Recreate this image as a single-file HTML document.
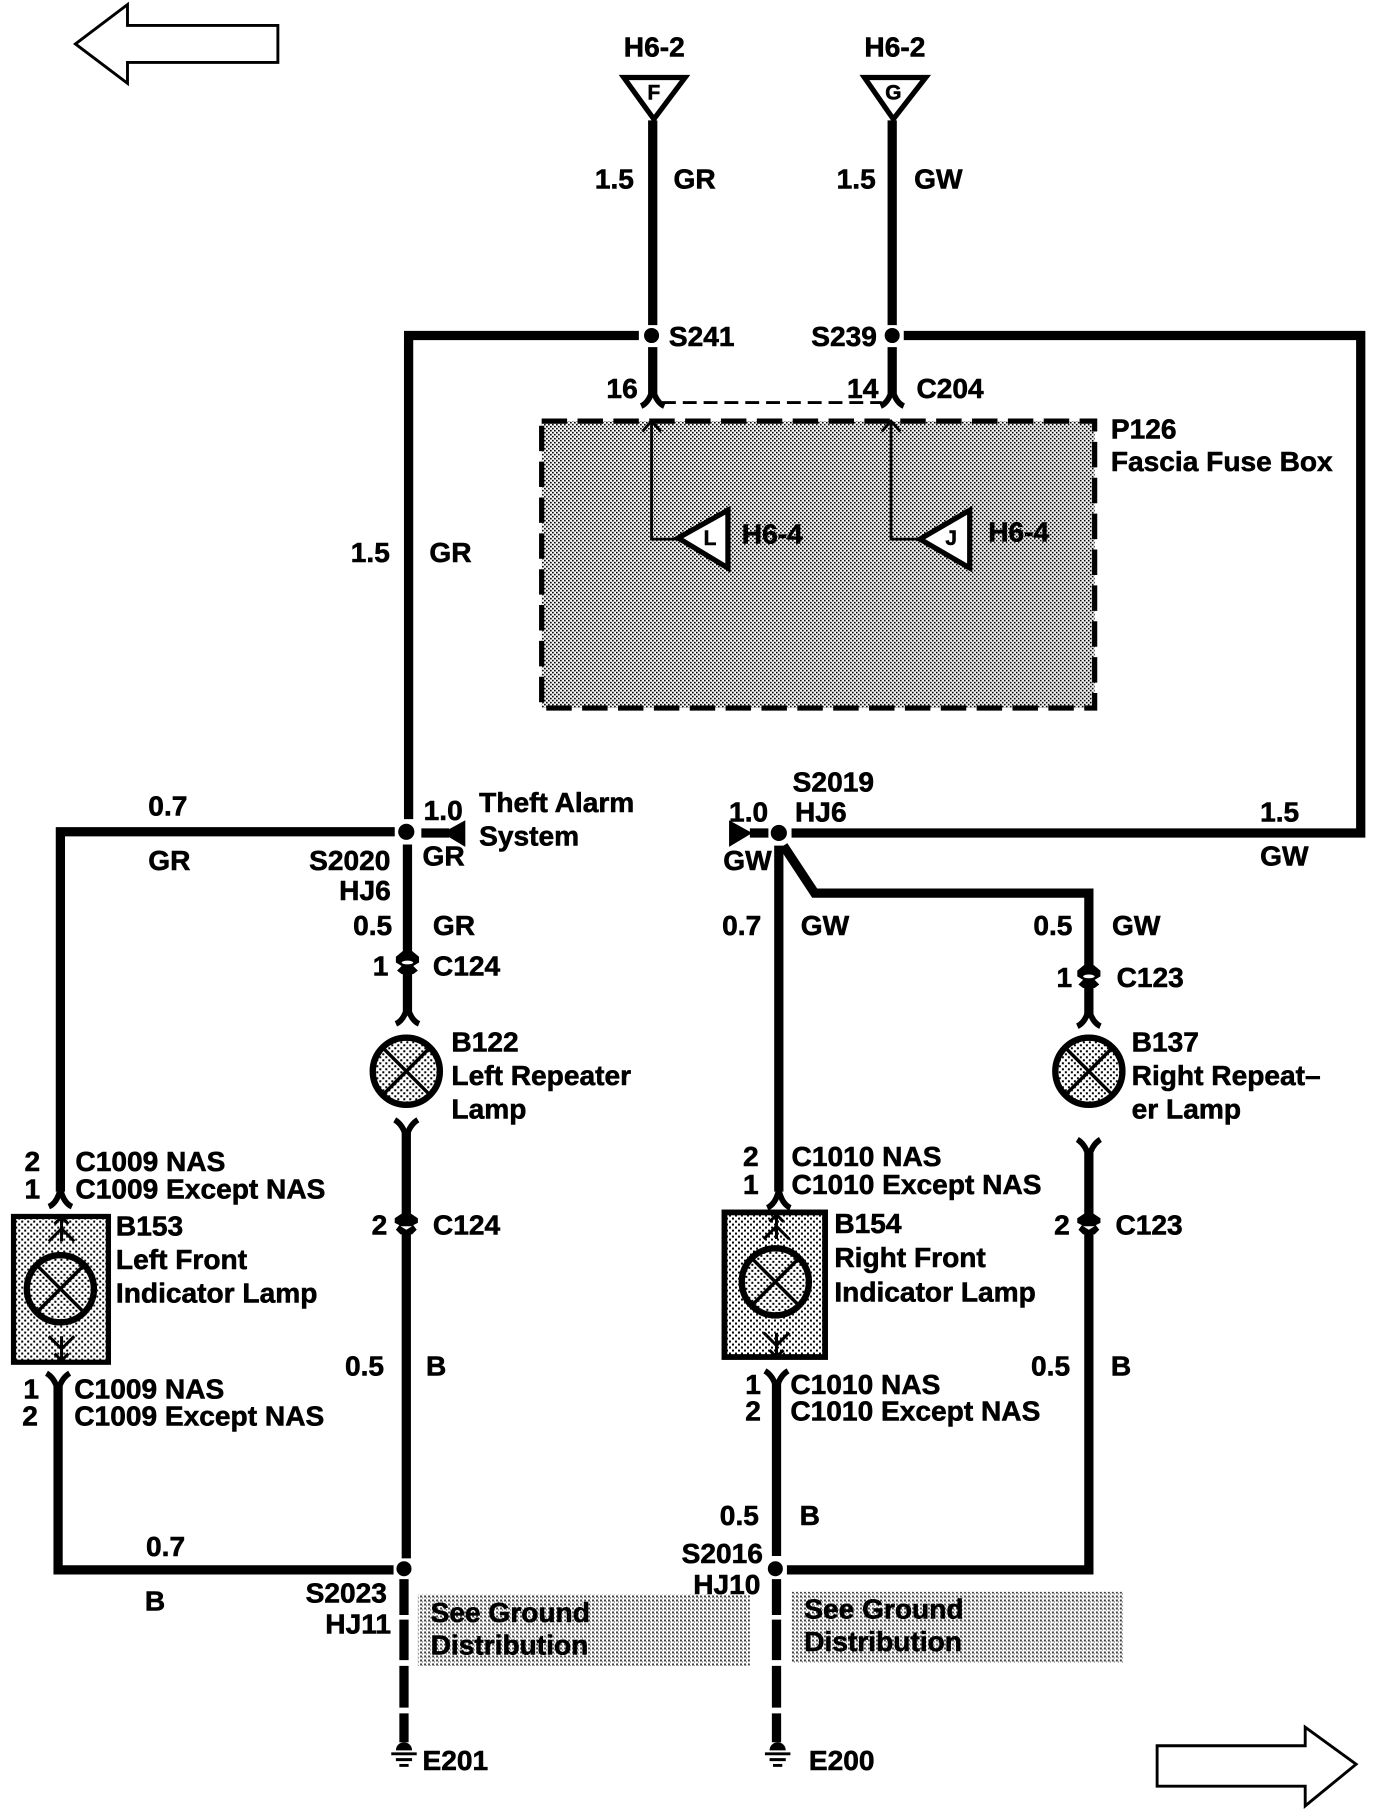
<!DOCTYPE html>
<html><head><meta charset="utf-8"><style>
html,body{margin:0;padding:0;background:#fff}
svg{display:block}
text{font-family:"Liberation Sans",sans-serif;font-weight:bold;font-size:24.3px;fill:#000;stroke:#000;stroke-width:.5px}
.w{fill:none;stroke:#000;stroke-width:8}
.t{fill:none;stroke:#000;stroke-width:2.4}
.m{text-anchor:middle}
</style></head><body>
<svg xmlns="http://www.w3.org/2000/svg" width="1376" height="1814" viewBox="0 0 1189 1568">
<defs>
<pattern id="p1" patternUnits="userSpaceOnUse" width="4" height="4" patternTransform="scale(.8641)"><rect x="0" y="0" width="1.65" height="1.65"/><rect x="2" y="2" width="1.65" height="1.65"/></pattern>
<pattern id="p2" patternUnits="userSpaceOnUse" width="6" height="6" patternTransform="scale(.8641)"><rect x="0" y="0" width="2" height="2"/><rect x="3" y="3" width="2" height="2"/></pattern>
<pattern id="p3" patternUnits="userSpaceOnUse" width="4" height="4" patternTransform="scale(.8641)"><rect x="0" y="0" width="2" height="2"/><rect x="2" y="2" width="1" height="1"/></pattern>
<g id="fd"><path d="M-10,7 Q-3,4 0,-8 Q3,4 10,7" fill="none" stroke="#000" stroke-width="5"/></g>
<g id="fu"><path d="M-10,-7 Q-3,-3 0,8 Q3,-3 10,-7" fill="none" stroke="#000" stroke-width="5"/></g>
<g id="blob"><path d="M-4,-10H4L10,-5V0L5,3L9,7L5,10H-5L-9,7L-5,3L-10,0V-5Z"/><ellipse cx="0" cy="0" rx="5" ry="1.6" fill="#fff"/></g>
<g id="blob2"><path d="M-4,-9H4L10,-5V-1L6,1L9,5L5,9H-5L-9,5L-6,1L-10,-1V-5Z"/><path d="M-5,2H5L0,5Z" fill="#fff"/></g>
<g id="lamp"><circle r="29" fill="#fff"/><circle r="29" fill="url(#p2)" stroke="#000" stroke-width="5.5"/><path d="M-20,-20L20,20M20,-20L-20,20" stroke="#000" stroke-width="3"/></g>
<g id="gnd"><path d="M-7,-3 A7,7 0 0 1 7,-3Z"/><path d="M-11,0H11" stroke="#000" stroke-width="2.5"/><path d="M-7,5H7" stroke="#000" stroke-width="2.5"/><path d="M-4,10H4" stroke="#000" stroke-width="2.5"/></g>
<g id="ch"><path d="M-6,-5 L0,-11 L6,-5 M-11,10 L0,-1 L11,10 M0,-11V10" fill="none" stroke="#000" stroke-width="2.6"/></g>
<g id="cy"><path d="M-6,5 L0,11 L6,5 M-11,-10 L0,1 L11,-10 M0,11V-10" fill="none" stroke="#000" stroke-width="2.6"/></g>
</defs>
<rect width="1189" height="1568" fill="#fff"/>

<!-- direction arrows -->
<path d="M65,38 110,4 110,22 240,22 240,54 110,54 110,72Z" fill="#fff" stroke="#000" stroke-width="2.5"/>
<path d="M1000,1509 1128,1509 1128,1493 1172,1525 1128,1561 1128,1544 1000,1544Z" fill="#fff" stroke="#000" stroke-width="2.5"/>

<!-- fuse box -->
<rect x="468" y="364" width="478" height="248" fill="url(#p1)"/>
<rect x="468" y="364" width="478" height="248" fill="none" stroke="#000" stroke-width="4.5" stroke-dasharray="22 9"/>
<path class="t" d="M563,365V466H585M770,365V466H794"/>
<path class="t" d="M555,373 563,364 571,373M762,373 770,364 778,373"/>
<path d="M586,465 629,441 629,491Z" fill="#fff" stroke="#000" stroke-width="4.5"/>
<path d="M795,466 838,441 838,491Z" fill="#fff" stroke="#000" stroke-width="4.5"/>
<text x="608" y="471" style="font-size:18px">L</text>
<text x="817" y="471" style="font-size:18px">J</text>
<text x="641" y="470">H6-4</text>
<text x="854" y="468">H6-4</text>

<!-- top source triangles -->
<path d="M539,67H592L565,103Z" fill="#fff" stroke="#000" stroke-width="4.5"/>
<path d="M747,67H800L772,103Z" fill="#fff" stroke="#000" stroke-width="4.5"/>
<text x="565" y="86" class="m" style="font-size:18px">F</text>
<text x="772" y="86" class="m" style="font-size:18px">G</text>

<!-- wires -->
<path class="w" d="M564,104V281M564,300V340"/>
<path class="w" d="M771,104V281M771,300V340"/>
<use href="#fd" x="564" y="344"/>
<use href="#fd" x="771" y="344"/>
<path d="M572,348H762" fill="none" stroke="#000" stroke-width="2.5" stroke-dasharray="12 6"/>
<circle cx="563" cy="290" r="6.5"/><circle cx="771" cy="290" r="6.5"/>
<path class="w" d="M552,290H353V708"/>
<path class="w" d="M781,290H1176V720H684"/>

<!-- left branch -->
<circle cx="351" cy="719" r="7"/>
<path class="w" d="M341,719H52V1030"/>
<use href="#fd" x="52" y="1036"/>
<path class="w" d="M352,730V874"/>
<use href="#fd" x="352" y="878"/>
<use href="#blob" x="352" y="832"/>
<path class="w" d="M364,720H388"/>
<path d="M402,709V732L382,720Z"/>
<use href="#lamp" x="351" y="926"/>
<use href="#fu" x="351" y="975"/>
<path class="w" d="M351,978V1347"/>
<use href="#blob2" x="351" y="1058"/>
<circle cx="349" cy="1356" r="6.5"/>
<path class="w" d="M340,1357H50V1198"/>
<use href="#fu" x="50" y="1194"/>
<path d="M349,1365V1396M349,1400V1435M349,1440V1476M349,1481V1506" fill="none" stroke="#000" stroke-width="8"/>
<use href="#gnd" x="349" y="1516"/>

<!-- B153 -->
<rect x="11.5" y="1051.5" width="82" height="126" fill="url(#p2)" stroke="#000" stroke-width="4.5"/>
<use href="#ch" x="53" y="1063"/><use href="#cy" x="53" y="1165"/>
<use href="#lamp" x="52" y="1114"/>

<!-- right branch -->
<circle cx="673" cy="720" r="7"/>
<path class="w" d="M648,720H664"/>
<path d="M630,709V732L650,720Z"/>
<path class="w" d="M673,731V1030"/>
<use href="#fd" x="673" y="1037"/>
<path class="w" d="M677,731 704,772H941V880"/>
<use href="#fd" x="941" y="880"/>
<use href="#blob" x="941" y="844"/>
<use href="#lamp" x="941" y="926"/>
<use href="#fu" x="941" y="992"/>
<path class="w" d="M941,995V1357H680"/>
<use href="#blob2" x="941" y="1058"/>
<rect x="626" y="1048" width="87" height="125" fill="url(#p2)" stroke="#000" stroke-width="5"/>
<use href="#ch" x="671" y="1061"/><use href="#cy" x="671" y="1162"/>
<use href="#lamp" x="670" y="1108"/>
<use href="#fu" x="671" y="1192"/>
<path class="w" d="M671,1195V1345"/>
<circle cx="670" cy="1356" r="6.5"/>
<path d="M671,1365V1396M671,1400V1435M671,1440V1476M671,1481V1506" fill="none" stroke="#000" stroke-width="8"/>
<use href="#gnd" x="672" y="1516"/>

<!-- shaded notes -->
<rect x="361" y="1378" width="287" height="62" fill="url(#p3)" opacity=".75"/>
<rect x="684" y="1376" width="287" height="61" fill="url(#p3)" opacity=".75"/>

<!-- labels -->
<text x="539" y="49">H6-2</text><text x="747" y="49">H6-2</text>
<text x="514" y="163">1.5</text><text x="582" y="163">GR</text>
<text x="723" y="163">1.5</text><text x="790" y="163">GW</text>
<text x="578" y="299">S241</text><text x="701" y="299">S239</text>
<text x="524" y="344">16</text><text x="732" y="344">14</text><text x="792" y="344">C204</text>
<text x="960" y="379">P126</text><text x="960" y="407">Fascia Fuse Box</text>
<text x="303" y="486">1.5</text><text x="371" y="486">GR</text>

<text x="128" y="705">0.7</text><text x="128" y="752">GR</text>
<text x="267" y="752">S2020</text><text x="293" y="778">HJ6</text>
<text x="366" y="709">1.0</text><text x="365" y="748">GR</text>
<text x="414" y="702">Theft Alarm</text><text x="414" y="731">System</text>
<text x="305" y="808">0.5</text><text x="374" y="808">GR</text>
<text x="322" y="843">1</text><text x="374" y="843">C124</text>
<text x="390" y="909">B122</text><text x="390" y="938">Left Repeater</text><text x="390" y="967">Lamp</text>
<text x="21" y="1012">2</text><text x="65" y="1012">C1009 NAS</text>
<text x="21" y="1036">1</text><text x="65" y="1036">C1009 Except NAS</text>
<text x="100" y="1068">B153</text><text x="100" y="1097">Left Front</text><text x="100" y="1126">Indicator Lamp</text>
<text x="20" y="1209">1</text><text x="64" y="1209">C1009 NAS</text>
<text x="19" y="1232">2</text><text x="64" y="1232">C1009 Except NAS</text>
<text x="321" y="1067">2</text><text x="374" y="1067">C124</text>
<text x="298" y="1189">0.5</text><text x="368" y="1189">B</text>
<text x="126" y="1345">0.7</text><text x="125" y="1392">B</text>
<text x="264" y="1385">S2023</text><text x="281" y="1412">HJ11</text>
<text x="372" y="1402">See Ground</text><text x="372" y="1430">Distribution</text>
<text x="365" y="1530">E201</text>

<text x="685" y="684">S2019</text><text x="687" y="710">HJ6</text>
<text x="630" y="710">1.0</text><text x="625" y="752">GW</text>
<text x="1089" y="710">1.5</text><text x="1089" y="748">GW</text>
<text x="624" y="808">0.7</text><text x="692" y="808">GW</text>
<text x="893" y="808">0.5</text><text x="961" y="808">GW</text>
<text x="913" y="853">1</text><text x="965" y="853">C123</text>
<text x="978" y="909">B137</text><text x="978" y="938">Right Repeat–</text><text x="978" y="967">er Lamp</text>
<text x="642" y="1008">2</text><text x="684" y="1008">C1010 NAS</text>
<text x="642" y="1032">1</text><text x="684" y="1032">C1010 Except NAS</text>
<text x="721" y="1066">B154</text><text x="721" y="1095">Right Front</text><text x="721" y="1125">Indicator Lamp</text>
<text x="644" y="1205">1</text><text x="683" y="1205">C1010 NAS</text>
<text x="644" y="1228">2</text><text x="683" y="1228">C1010 Except NAS</text>
<text x="911" y="1067">2</text><text x="964" y="1067">C123</text>
<text x="891" y="1189">0.5</text><text x="960" y="1189">B</text>
<text x="622" y="1318">0.5</text><text x="691" y="1318">B</text>
<text x="589" y="1351">S2016</text><text x="599" y="1378">HJ10</text>
<text x="695" y="1399">See Ground</text><text x="695" y="1427">Distribution</text>
<text x="699" y="1530">E200</text>
</svg>
</body></html>
